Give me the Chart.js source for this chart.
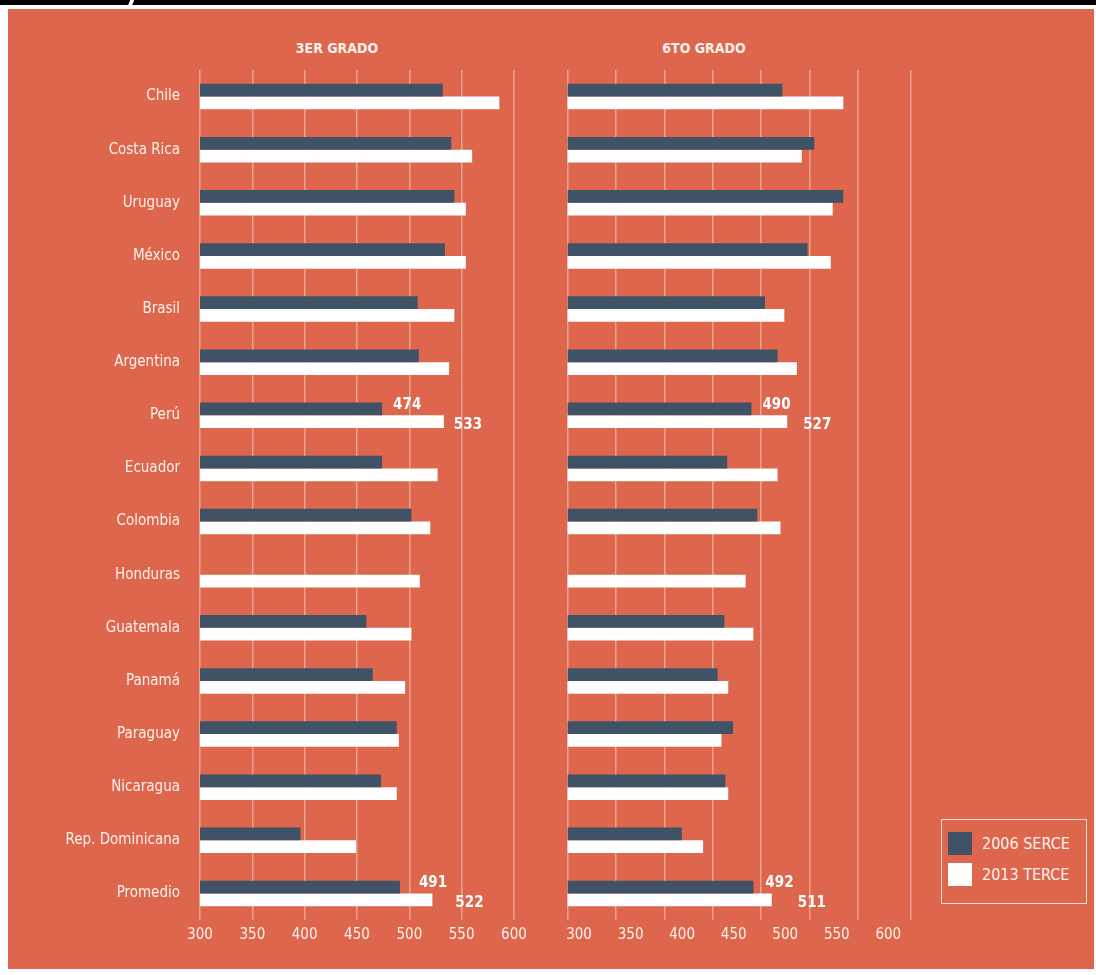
<!DOCTYPE html>
<html>
<head>
<meta charset="utf-8">
<script src="https://cdn.jsdelivr.net/npm/chart.js@4.4.1/dist/chart.umd.min.js"></script>
<style>
  html, body { margin:0; padding:0; background:#ffffff; width:1096px; height:975px; overflow:hidden; }
  body { font-family: "Liberation Sans Narrow", "DejaVu Sans Condensed", "Roboto", sans-serif; }
  #topbar { position:absolute; left:0; top:0; width:1096px; height:5px; background:#000; }
  #slash { position:absolute; left:129px; top:0; width:4px; height:6px; background:#fff; transform:skewX(-22deg); }
  #panel { position:absolute; left:8px; top:9px; width:1086px; height:960px; background:#DD664C; }
  canvas { position:absolute; top:0; }
  #cLeft { left:0; }
  #cRight { left:545px; }
  .title { position:absolute; top:38px; width:200px; text-align:center; color:#FDF1EC; font-weight:bold; font-size:14px; line-height:20px; }
  #legend { position:absolute; left:941px; top:819px; width:144px; height:83px; border:1.5px solid rgba(255,255,255,0.75); }
  .li { position:absolute; left:6px; height:23px; }
  .sw { position:absolute; left:0; top:0; width:24px; height:23px; }
  .lt { position:absolute; left:34px; top:0; line-height:23px; font-size:16px; color:#FDF1EC; white-space:nowrap; }
</style>
</head>
<body>
<div id="topbar"></div>
<div id="slash"></div>
<div id="panel"></div>
<div class="title" id="t1" style="left:237px;"></div>
<div class="title" id="t2" style="left:604px;"></div>
<canvas id="cLeft" width="545" height="975" style="width:545px;height:975px;"></canvas>
<canvas id="cRight" width="395" height="975" style="width:395px;height:975px;"></canvas>
<div id="legend"></div>

<script>
// ---------------- DATA ----------------
const categories = ["Chile","Costa Rica","Uruguay","México","Brasil","Argentina","Perú","Ecuador","Colombia","Honduras","Guatemala","Panamá","Paraguay","Nicaragua","Rep. Dominicana","Promedio"];
const seriesNames = ["2006 SERCE","2013 TERCE"];
const panelTitles = ["3ER GRADO","6TO GRADO"];

// 3er grado
const serce3 = [532, 540, 543, 534, 508, 509, 474, 474, 502, null, 459, 465, 488, 473, 396, 491];
const terce3 = [586, 560, 554, 554, 543, 538, 533, 527, 520, 510, 502, 496, 490, 488, 449, 522];
// 6to grado
const serce6 = [522, 555, 585, 548, 504, 517, 490, 465, 496, null, 462, 455, 471, 463, 418, 492];
const terce6 = [585, 542, 574, 572, 524, 537, 527, 517, 520, 484, 492, 466, 459, 466, 440, 511];

const xTicks = [300, 350, 400, 450, 500, 550, 600];
// indices of categories whose values are printed
const labelledIdx = [6, 15];

// ---------------- STYLE ----------------
const DARK = "#3F5266";
const LIGHT = "#FFFFFF";
const TXT = "#FDF1EC";
const GRID = "rgba(255,255,255,0.40)";
const FONT = '"Liberation Sans Narrow", "DejaVu Sans Condensed", "Roboto", sans-serif';

document.getElementById('t1').textContent = panelTitles[0];
document.getElementById('t2').textContent = panelTitles[1];

// legend
const lg = document.getElementById('legend');
[DARK, LIGHT].forEach((c, i) => {
  const it = document.createElement('div');
  it.className = 'li';
  it.style.top = (12 + i * 31) + 'px';
  it.innerHTML = '<div class="sw" style="background:' + c + '"></div><div class="lt"></div>';
  it.querySelector('.lt').textContent = seriesNames[i];
  lg.appendChild(it);
});

const valueLabels = {
  id: 'valueLabels',
  afterDatasetsDraw(chart, args, opts) {
    const ctx = chart.ctx;
    ctx.save();
    ctx.font = 'bold 15px ' + FONT;
    ctx.fillStyle = '#FFFFFF';
    ctx.textBaseline = 'middle';
    ctx.textAlign = 'left';
    (opts.items || []).forEach(it => {
      const bar = chart.getDatasetMeta(it.ds).data[it.idx];
      const v = chart.data.datasets[it.ds].data[it.idx];
      ctx.fillText(String(v), bar.x + it.dx, bar.y + it.dy);
    });
    ctx.restore();
  }
};

function makeDatasets(a, b) {
  return [
    { label: seriesNames[0], data: a, backgroundColor: DARK, barPercentage: 1.0, categoryPercentage: 0.48 },
    { label: seriesNames[1], data: b, backgroundColor: LIGHT, barPercentage: 1.0, categoryPercentage: 0.48 }
  ];
}

// ---------- LEFT CHART (3er grado) ----------
new Chart(document.getElementById('cLeft'), {
  type: 'bar',
  data: { labels: categories, datasets: makeDatasets(serce3, terce3) },
  plugins: [valueLabels],
  options: {
    indexAxis: 'y',
    responsive: false,
    animation: false,
    devicePixelRatio: 1,
    layout: { padding: { left: 0, right: 31, top: 70, bottom: 15 } },
    plugins: {
      legend: { display: false },
      tooltip: { enabled: false },
      valueLabels: { items: [
        { ds: 0, idx: labelledIdx[0], dx: 11, dy: -4 },
        { ds: 1, idx: labelledIdx[0], dx: 10, dy: 3 },
        { ds: 0, idx: labelledIdx[1], dx: 19, dy: -4 },
        { ds: 1, idx: labelledIdx[1], dx: 23, dy: 3 }
      ] }
    },
    scales: {
      x: {
        min: 300, max: 600,
        afterBuildTicks: (ax) => { ax.ticks = xTicks.map(v => ({ value: v })); },
        afterFit: (s) => { s.height = 40; },
        grid: { color: GRID, lineWidth: 1.5, drawTicks: false },
        border: { display: false },
        ticks: { color: TXT, font: { family: FONT, size: 15 }, padding: 6, maxRotation: 0 }
      },
      y: {
        afterFit: (s) => { s.width = 200; },
        grid: { display: false, drawTicks: false },
        border: { display: false },
        ticks: { color: TXT, font: { family: FONT, size: 15 }, padding: 20, autoSkip: false }
      }
    }
  }
});

// ---------- RIGHT CHART (6to grado) ----------
const rightGridEnd = 655;
new Chart(document.getElementById('cRight'), {
  type: 'bar',
  data: { labels: categories, datasets: makeDatasets(serce6, terce6) },
  plugins: [valueLabels],
  options: {
    indexAxis: 'y',
    responsive: false,
    animation: false,
    devicePixelRatio: 1,
    layout: { padding: { left: 0, right: 29, top: 70, bottom: 15 } },
    plugins: {
      legend: { display: false },
      tooltip: { enabled: false },
      valueLabels: { items: [
        { ds: 0, idx: labelledIdx[0], dx: 11, dy: -4 },
        { ds: 1, idx: labelledIdx[0], dx: 16, dy: 3 },
        { ds: 0, idx: labelledIdx[1], dx: 12, dy: -4 },
        { ds: 1, idx: labelledIdx[1], dx: 26, dy: 3 }
      ] }
    },
    scales: {
      x: {
        min: 300, max: rightGridEnd,
        afterBuildTicks: (ax) => { ax.ticks = xTicks.concat([rightGridEnd]).map(v => ({ value: v })); },
        afterFit: (s) => { s.height = 0; },
        grid: { color: GRID, lineWidth: 1.5, drawTicks: false },
        border: { display: false },
        ticks: { display: false }
      },
      xl: {
        type: 'linear', position: 'bottom',
        min: 289, max: 622,
        afterBuildTicks: (ax) => { ax.ticks = xTicks.map(v => ({ value: v })); },
        afterFit: (s) => { s.height = 40; },
        grid: { display: false, drawTicks: false },
        border: { display: false },
        ticks: { color: TXT, font: { family: FONT, size: 15 }, padding: 6, maxRotation: 0 }
      },
      y: {
        afterFit: (s) => { s.width = 22.7; },
        grid: { display: false, drawTicks: false },
        border: { display: false },
        ticks: { display: false }
      }
    }
  }
});
</script>
</body>
</html>
